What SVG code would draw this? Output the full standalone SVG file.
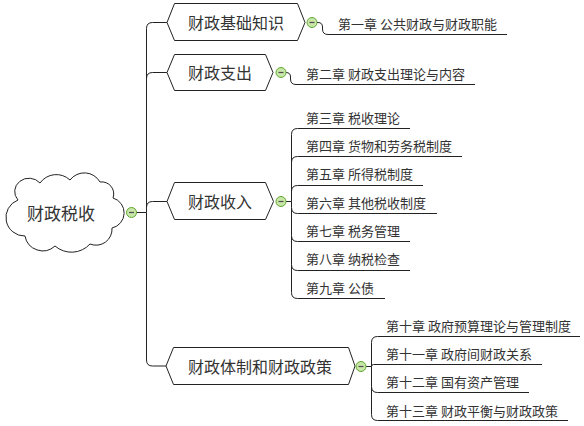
<svg xmlns="http://www.w3.org/2000/svg" width="584" height="426" viewBox="0 0 584 426">
<style>
text{font-family:"Noto Sans CJK SC","Microsoft YaHei",sans-serif;fill:#333;dominant-baseline:central}
.root{font-size:17px;text-anchor:middle}
.main{font-size:16px;text-anchor:middle}
.sub{font-size:13px}
.shape{fill:#fff;stroke:#222;stroke-width:1}
.conn path{fill:none;stroke:#222;stroke-width:1}
.tog circle{fill:#c8e6a8;stroke:#5fa82e;stroke-width:1}
.tog line{stroke:#4d4d4d;stroke-width:1.2}
</style>
<defs>
<g id="toggle" class="tog"><circle r="5"/><line x1="-2.5" y1="0" x2="2.5" y2="0"/></g>
</defs>
<g id="connectors" class="conn">
<path d="M136,212.5 H146.5 V28.5 Q146.5,22.5 152.5,22.5 H167"/>
<path d="M146.5,78.5 Q146.5,72.5 152.5,72.5 H167"/>
<path d="M146.5,207.5 Q146.5,201.5 152.5,201.5 H167"/>
<path d="M146.5,212.5 V360 Q146.5,366 152.5,366 H166"/>
<path d="M317,22.5 H318 Q322.5,22.5 322.5,27 V29 Q322.5,34.5 328,34.5 H507"/>
<path d="M286,72.5 Q290.5,72.5 290.5,77 V79 Q290.5,84.5 296,84.5 H475"/>
<path d="M286,201.5 H291.5 V134.5 Q291.5,128.5 297.5,128.5 H410"/>
<path d="M291.5,162.5 Q291.5,156.5 297.5,156.5 H462"/>
<path d="M291.5,191.5 Q291.5,185.5 297.5,185.5 H423"/>
<path d="M291.5,201.5 V207.5 Q291.5,213.5 297.5,213.5 H437"/>
<path d="M291.5,207.5 V235.5 Q291.5,241.5 297.5,241.5 H410"/>
<path d="M291.5,235.5 V264.5 Q291.5,270.5 297.5,270.5 H410"/>
<path d="M291.5,264.5 V292.5 Q291.5,298.5 297.5,298.5 H385"/>
<path d="M366,366.5 H371.5 V342.5 Q371.5,336.5 377.5,336.5 H580"/>
<path d="M371.5,366.5 Q371.5,364.5 373.5,364.5 H542"/>
<path d="M371.5,366.5 V386.5 Q371.5,392.5 377.5,392.5 H529"/>
<path d="M371.5,386.5 V414.5 Q371.5,420.5 377.5,420.5 H568"/>
</g>
<g id="root">
<path class="shape" d="M18,200 A14,13 0 0 1 40,183 A20,20 0 0 1 70,180 A18,18 0 0 1 100,182 A12,12 0 0 1 113,198 A15.5,15.5 0 0 1 112,228 A16,16 0 0 1 90,244 A25,25 0 0 1 55,246 A18,18 0 0 1 25,236 A18.6,18.6 0 0 1 18,200 Z"/>
<text class="root" x="61" y="212">财政税收</text>
<use href="#toggle" x="131.5" y="212.5"/>
</g>
<g id="n1">
<polygon class="shape" points="167,22.5 174.5,3.5 297.5,3.5 305,22.5 297.5,40.5 174.5,40.5"/>
<text class="main" x="236" y="22">财政基础知识</text>
<use href="#toggle" x="312" y="22.5"/>
</g>
<g id="n2">
<polygon class="shape" points="167,72.5 174.5,54.5 265.5,54.5 273,72.5 265.5,90.5 174.5,90.5"/>
<text class="main" x="220" y="72">财政支出</text>
<use href="#toggle" x="281" y="72.5"/>
</g>
<g id="n3">
<polygon class="shape" points="167,201.5 174.5,182.5 265.5,182.5 273.5,201.5 265.5,219.5 174.5,219.5"/>
<text class="main" x="220" y="201">财政收入</text>
<use href="#toggle" x="281" y="201.5"/>
</g>
<g id="n4">
<polygon class="shape" points="166,366 173.5,347.5 348.5,347.5 355,366 348.5,384.5 173.5,384.5"/>
<text class="main" x="260" y="366">财政体制和财政政策</text>
<use href="#toggle" x="361" y="366.5"/>
</g>
<g id="c1"><text class="sub" x="338" y="23">第一章 公共财政与财政职能</text></g>
<g id="c2"><text class="sub" x="306" y="73">第二章 财政支出理论与内容</text></g>
<g id="c3"><text class="sub" x="306" y="117">第三章 税收理论</text></g>
<g id="c4"><text class="sub" x="306" y="145">第四章 货物和劳务税制度</text></g>
<g id="c5"><text class="sub" x="306" y="173">第五章 所得税制度</text></g>
<g id="c6"><text class="sub" x="306" y="202">第六章 其他税收制度</text></g>
<g id="c7"><text class="sub" x="306" y="230">第七章 税务管理</text></g>
<g id="c8"><text class="sub" x="306" y="258">第八章 纳税检查</text></g>
<g id="c9"><text class="sub" x="306" y="287">第九章 公债</text></g>
<g id="c10"><text class="sub" x="386" y="325">第十章 政府预算理论与管理制度</text></g>
<g id="c11"><text class="sub" x="386" y="353">第十一章 政府间财政关系</text></g>
<g id="c12"><text class="sub" x="386" y="381">第十二章 国有资产管理</text></g>
<g id="c13"><text class="sub" x="386" y="410">第十三章 财政平衡与财政政策</text></g>
</svg>
